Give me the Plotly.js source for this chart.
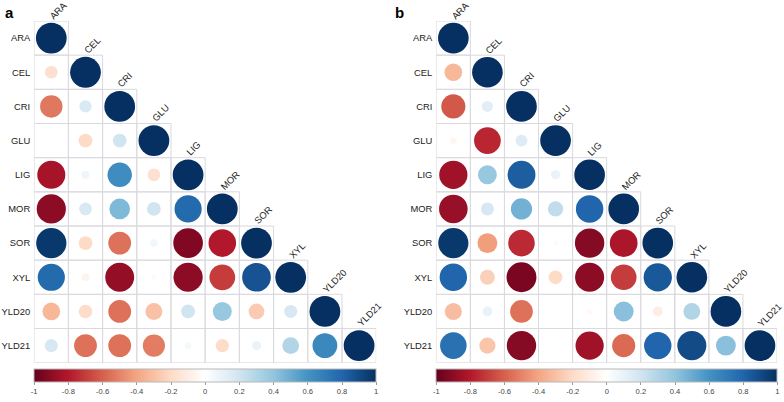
<!DOCTYPE html>
<html><head><meta charset="utf-8">
<script src="https://cdn.plot.ly/plotly-3.0.1.min.js"></script>
<style>html,body{margin:0;padding:0;background:#fff}</style></head>
<body><div id="chart" style="width:784px;height:402px"></div>
<script>
// ---- data ----
const variables = ['ARA','CEL','CRI','GLU','LIG','MOR','SOR','XYL','YLD20','YLD21'];
// lower-triangle correlation matrices (row i holds columns 0..i)
const corrA = [
  [1],
  [-0.17, 1],
  [-0.53, 0.16, 1],
  [-0.01, -0.20, 0.20, 1],
  [-0.83, 0.07, 0.63, -0.17, 1],
  [-0.90, 0.17, 0.45, 0.20, 0.78, 1],
  [0.97, -0.20, -0.55, 0.06, -0.93, -0.80, 1],
  [0.78, -0.06, -0.88, -0.03, -0.90, -0.70, 0.87, 1],
  [-0.33, -0.19, -0.55, -0.30, 0.20, 0.38, -0.26, 0.18, 1],
  [0.18, -0.55, -0.55, -0.52, 0.05, -0.19, 0.09, 0.30, 0.65, 1]
];
const corrB = [
  [1],
  [-0.33, 1],
  [-0.62, 0.13, 1],
  [-0.05, -0.76, 0.15, 1],
  [-0.85, 0.38, 0.83, 0.09, 1],
  [-0.87, 0.18, 0.48, 0.25, 0.80, 1],
  [0.97, -0.42, -0.75, -0.03, -0.92, -0.82, 1],
  [0.80, -0.24, -0.95, -0.20, -0.90, -0.70, 0.85, 1],
  [-0.31, 0.10, -0.55, 0.01, -0.04, 0.42, -0.10, 0.30, 1],
  [0.75, -0.28, -0.92, 0.00, -0.85, -0.57, 0.80, 0.90, 0.42, 1]
];
const colorTickVals = [-1,-0.8,-0.6,-0.4,-0.2,0,0.2,0.4,0.6,0.8,1];
const colorTickText = ['-1','-0.8','-0.6','-0.4','-0.2','0','0.2','0.4','0.6','0.8','1'];
const panelLetters = ['a','b'];

// ---- style ----
const rdbuColors = ['#67001F','#B2182B','#D6604D','#F4A582','#FDDBC7','#FFFFFF','#D1E5F0','#92C5DE','#4393C3','#2166AC','#053061'];
const colorscale = rdbuColors.map((c,k)=>[k/(rdbuColors.length-1), c]);
const W = 784, H = 402;
const FONT = 'Liberation Sans, Arial, sans-serif';
const LABEL_SIZE = 9.4;
const panels = [
  {corr: corrA, left: 34.2, right: 376.2, top: 21, bottom: 362.7, letterX: 3},
  {corr: corrB, left: 436.3, right: 777.0, top: 21, bottom: 362.7, letterX: 393}
];
const cbTop = 369.3, cbThick = 12.7;

const data = [];
const layout = {
  width: W, height: H,
  margin: {l:0, r:0, t:0, b:0},
  paper_bgcolor: '#fff', plot_bgcolor: '#fff',
  showlegend: false,
  font: {family: FONT, color: '#222'},
  shapes: [], annotations: []
};

panels.forEach((p, k) => {
  const n = variables.length;
  const cell = (p.right - p.left) / n;
  const xs = [], ys = [], cs = [], ss = [];
  p.corr.forEach((row, i) => row.forEach((r, j) => {
    xs.push(j); ys.push(i); cs.push(r);
    ss.push(0.9 * cell * Math.sqrt(Math.abs(r)));
  }));
  const xa = k === 0 ? 'x' : 'x2', ya = k === 0 ? 'y' : 'y2';
  data.push({
    type: 'scatter', mode: 'markers', x: xs, y: ys, xaxis: xa, yaxis: ya,
    hoverinfo: 'skip',
    marker: {
      size: ss, color: cs, cmin: -1, cmax: 1, colorscale: colorscale,
      line: {width: 0}, opacity: 1,
      showscale: true,
      colorbar: {
        orientation: 'h', lenmode: 'pixels', len: p.right - p.left,
        thicknessmode: 'pixels', thickness: cbThick,
        x: p.left / W, xanchor: 'left', xpad: 0,
        y: 1 - cbTop / H, yanchor: 'top', ypad: 0,
        outlinewidth: 1, outlinecolor: '#b8b8b8',
        tickmode: 'array', tickvals: colorTickVals, ticktext: colorTickText,
        ticks: 'outside', ticklen: 3, tickcolor: '#999', tickwidth: 1,
        tickfont: {size: 7.6, color: '#444', family: FONT}
      }
    }
  });
  const xkey = k === 0 ? 'xaxis' : 'xaxis2', ykey = k === 0 ? 'yaxis' : 'yaxis2';
  layout[xkey] = {
    domain: [p.left / W, p.right / W], range: [-0.5, n - 0.5],
    showgrid: false, zeroline: false, showticklabels: false, showline: false,
    fixedrange: true, anchor: ya
  };
  layout[ykey] = {
    domain: [1 - p.bottom / H, 1 - p.top / H], range: [n - 0.5, -0.5],
    showgrid: false, zeroline: false, showline: false, ticks: '',
    tickmode: 'array', tickvals: variables.map((v, i) => i), ticktext: variables,
    tickfont: {size: LABEL_SIZE, color: '#222', family: FONT},
    ticklabelstandoff: 3,
    fixedrange: true, anchor: xa
  };
  // cell borders
  for (let i = 0; i < n; i++) for (let j = 0; j <= i; j++) {
    layout.shapes.push({
      type: 'rect', xref: xa, yref: ya,
      x0: j - 0.5, x1: j + 0.5, y0: i - 0.5, y1: i + 0.5,
      line: {color: '#d9d9df', width: 1}, layer: 'below'
    });
  }
  // column labels (diagonal, rotated)
  variables.forEach((v, j) => {
    layout.annotations.push({
      xref: xa, yref: ya, x: j, y: j - 0.5, text: v, showarrow: false,
      textangle: -45, xanchor: 'left', yanchor: 'bottom', xshift: -7, yshift: -3,
      font: {size: LABEL_SIZE, color: '#222', family: FONT}
    });
  });
  // panel letter
  layout.annotations.push({
    xref: 'paper', yref: 'paper', x: p.letterX / W, y: 1 - 2 / H,
    xanchor: 'left', yanchor: 'top', showarrow: false,
    text: '<b>' + panelLetters[k] + '</b>',
    font: {size: 15, color: '#000', family: FONT}
  });
});

Plotly.newPlot('chart', data, layout, {displayModeBar: false, staticPlot: true});
</script>
</body></html>
